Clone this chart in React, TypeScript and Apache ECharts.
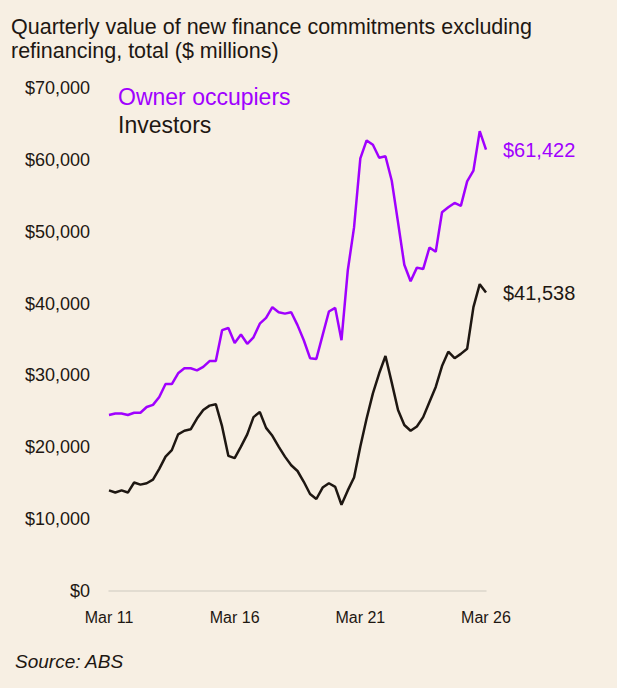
import { useEffect, useRef } from 'react';
import * as echarts from 'echarts';

const quarters: string[] = [];
const months = ['Mar', 'Jun', 'Sep', 'Dec'];
for (let y = 11; y <= 26; y++) {
  for (const m of months) {
    if (y === 26 && m !== 'Mar') continue;
    quarters.push(`${m} ${y}`);
  }
}

const ownerOccupiers = [
  24500, 24700, 24700, 24500, 24800, 24800, 25600, 25900, 27000, 28800,
  28800, 30300, 31000, 31000, 30700, 31200, 32000, 32000, 36300, 36600,
  34500, 35700, 34400, 35300, 37200, 38000, 39500, 38800, 38600, 38800,
  37000, 34900, 32400, 32300, 35600, 38900, 39400, 34900, 44600, 50600,
  60200, 62700, 62100, 60300, 60500, 57100, 51300, 45400, 43100, 45000,
  44800, 47800, 47200, 52700, 53400, 54000, 53600, 57000, 58500, 64000,
  61422,
];

const investors = [
  14000, 13700, 14000, 13700, 15100, 14800, 15000, 15500, 17000, 18700,
  19600, 21800, 22300, 22500, 24000, 25200, 25800, 26000, 22900, 18800,
  18500, 20100, 21800, 24200, 24900, 22700, 21600, 20100, 18700, 17500,
  16700, 15200, 13500, 12800, 14400, 15000, 14500, 12000, 14000, 15800,
  20100, 24000, 27500, 30300, 32700, 29000, 25200, 23100, 22300, 22900,
  24200, 26300, 28400, 31300, 33300, 32400, 33000, 33700, 39500, 42700,
  41538,
];

const PURPLE = '#A000FF';
const DARK = '#1E1712';
const BG = '#F7EFE3';
const FONT = '"Liberation Sans", Arial, sans-serif';

const money = (v: number) => '$' + v.toLocaleString('en-US');

export default function App() {
  const chartRef = useRef<HTMLDivElement>(null);

  useEffect(() => {
    document.body.style.margin = '0';
    document.body.style.background = BG;
    const chart = echarts.init(chartRef.current, null, { renderer: 'svg' });
    chart.setOption({
      animation: false,
      backgroundColor: BG,
      textStyle: { fontFamily: FONT },
      title: [
        {
          text: 'Quarterly value of new finance commitments excluding\nrefinancing, total ($ millions)',
          left: 11,
          top: 15,
          padding: 0,
          textStyle: { fontSize: 21.5, lineHeight: 24, fontWeight: 'normal', color: DARK, fontFamily: FONT },
        },
        {
          text: 'Source: ABS',
          left: 15,
          top: 652,
          padding: 0,
          textStyle: { fontSize: 19, fontStyle: 'italic', fontWeight: 'normal', color: DARK, fontFamily: FONT },
        },
      ],
      legend: {
        orient: 'vertical',
        left: 113,
        top: 85,
        padding: 0,
        itemGap: 5,
        itemWidth: 0,
        itemHeight: 0,
        icon: 'rect',
        selectedMode: false,
        textStyle: { fontSize: 23, fontFamily: FONT },
        data: [
          { name: 'Owner occupiers', textStyle: { color: PURPLE } },
          { name: 'Investors', textStyle: { color: DARK } },
        ],
      },
      grid: { left: 109, right: 131, top: 88, bottom: 97 },
      xAxis: {
        type: 'category',
        boundaryGap: false,
        data: quarters,
        axisLine: { show: true, lineStyle: { color: '#DCD6CC', width: 1.5 } },
        axisTick: { show: false },
        axisLabel: {
          interval: (i: number) => i % 20 === 0,
          margin: 18,
          fontSize: 16,
          color: DARK,
        },
        splitLine: { show: false },
      },
      yAxis: {
        type: 'value',
        min: 0,
        max: 70000,
        interval: 10000,
        axisLine: { show: false },
        axisTick: { show: false },
        splitLine: { show: false },
        axisLabel: { formatter: money, fontSize: 18, color: DARK, margin: 19 },
      },
      series: [
        {
          name: 'Investors',
          type: 'line',
          data: investors,
          symbol: 'none',
          lineStyle: { color: DARK, width: 2.5 },
          itemStyle: { color: DARK },
          endLabel: {
            show: true,
            distance: 17,
            formatter: (p: any) => money(p.value),
            fontSize: 20,
            color: DARK,
          },
        },
        {
          name: 'Owner occupiers',
          type: 'line',
          data: ownerOccupiers,
          symbol: 'none',
          lineStyle: { color: PURPLE, width: 2.5 },
          itemStyle: { color: PURPLE },
          endLabel: {
            show: true,
            distance: 17,
            formatter: (p: any) => money(p.value),
            fontSize: 20,
            color: PURPLE,
          },
        },
      ],
    });
    return () => {
      chart.dispose();
    };
  }, []);

  return <div ref={chartRef} style={{ width: '617px', height: '688px' }} />;
}
